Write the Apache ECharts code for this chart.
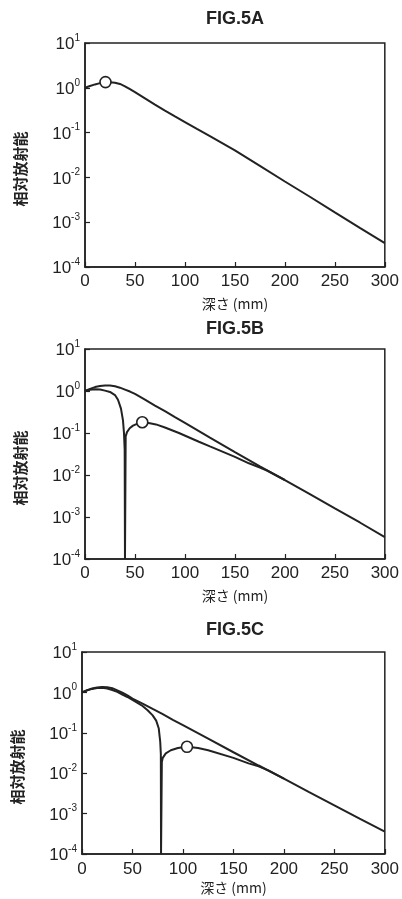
<!DOCTYPE html>
<html>
<head>
<meta charset="utf-8">
<title>FIG.5</title>
<script src="https://cdn.jsdelivr.net/npm/echarts@6/dist/echarts.min.js"></script>
<style>
	html, body { margin: 0; padding: 0; background: #fff; }
	#chart { width: 402px; height: 899px; }
</style>
</head>
<body>
<div id="chart"></div>
<script>
// 目盛り
var xTickLabels = ['0', '50', '100', '150', '200', '250', '300'];
var yTickExponents = ['-4', '-3', '-2', '-1', '0', '1'];
var titles = ['FIG.5A', 'FIG.5B', 'FIG.5C'];

// FIG.5A
var depthA = [0, 5, 10, 15, 20, 25, 30, 35, 40, 45, 50, 60, 70, 80, 90, 100, 112, 125, 150, 175, 200, 225, 250, 275, 300];
var doseA = [1.0, 1.1, 1.19, 1.27, 1.32, 1.33, 1.3, 1.22, 1.08, 0.93, 0.8, 0.58, 0.42, 0.31, 0.23, 0.172, 0.121, 0.083, 0.040, 0.018, 0.0081, 0.0037, 0.00166, 0.00075, 0.00034];
var peakA = [20.5, 1.34];

// FIG.5B
var depthB = [0, 5, 10, 15, 20, 25, 30, 35, 40, 45, 50, 60, 70, 80, 90, 100, 125, 150, 175, 200, 225, 250, 275, 300];
var doseB = [1.0, 1.12, 1.24, 1.32, 1.36, 1.36, 1.3, 1.2, 1.08, 0.97, 0.85, 0.62, 0.45, 0.33, 0.24, 0.175, 0.078, 0.035, 0.016, 0.0076, 0.0035, 0.0016, 0.00074, 0.00033];
var depthB2 = [0, 5, 10, 15, 20, 25, 30, 33, 36, 38, 39, 39.7, 40, 40.7, 42, 44.7, 48, 52, 57.3, 65, 71, 80, 94, 114, 125, 150, 164, 175, 182, 200];
var doseB2 = [1.0, 1.07, 1.1, 1.08, 1.02, 0.95, 0.8, 0.62, 0.38, 0.2, 0.1, 0.04, 0.0001, 0.083, 0.105, 0.13, 0.15, 0.165, 0.18, 0.17, 0.16, 0.135, 0.1, 0.062, 0.048, 0.027, 0.019, 0.015, 0.0128, 0.0076];
var peakB = [57.3, 0.18];

// FIG.5C
var depthC = [0, 5, 10, 15, 20, 25, 30, 35, 40, 45, 50, 60, 70, 80, 90, 100, 125, 150, 175, 200, 225, 250, 275, 300];
var doseC = [1.0, 1.13, 1.25, 1.33, 1.37, 1.35, 1.27, 1.12, 0.98, 0.84, 0.7, 0.53, 0.39, 0.29, 0.21, 0.155, 0.072, 0.033, 0.0155, 0.0073, 0.0034, 0.0016, 0.00075, 0.00036];
var depthC2 = [0, 5, 10, 15, 20, 25, 30, 35, 40, 45, 50, 55, 60, 65, 70, 73.5, 76, 77.5, 78.1, 78.3, 79.1, 80, 83, 88, 95, 104, 115, 125, 150, 165, 175, 185, 200];
var doseC2 = [1.0, 1.12, 1.22, 1.28, 1.3, 1.25, 1.15, 1.03, 0.88, 0.77, 0.65, 0.55, 0.46, 0.36, 0.27, 0.2, 0.13, 0.06, 0.03, 0.0001, 0.019, 0.024, 0.031, 0.037, 0.042, 0.045, 0.042, 0.037, 0.024, 0.0175, 0.0148, 0.0116, 0.0073];
var peakC = [104, 0.045];

var INK = '#222';
var LATIN = "'Liberation Sans', Arial, sans-serif";
var CJK = "'Noto Sans CJK JP', sans-serif";

// 各パネルの配置
var panels = [
	{ top: 43, height: 224, left: 85, titleTop: 10, labelMargin: 6, nameGap: 30, curves: [[depthA, doseA]], peak: peakA },
	{ top: 349, height: 210, left: 85, titleTop: 320, labelMargin: 6, nameGap: 30, curves: [[depthB, doseB], [depthB2, doseB2]], peak: peakB },
	{ top: 652, height: 202, left: 82, titleTop: 621, labelMargin: 7, nameGap: 27, curves: [[depthC, doseC], [depthC2, doseC2]], peak: peakC }
];

function pairs(xs, ys) {
	return xs.map(function (x, i) { return [x, ys[i]]; });
}

function createOption() {
	var option = {
		animation: false,
		backgroundColor: '#fff',
		title: [], grid: [], xAxis: [], yAxis: [], series: []
	};
	panels.forEach(function (p, i) {
		option.title.push({
			text: titles[i],
			left: 235,
			textAlign: 'center',
			top: p.titleTop,
			padding: 0,
			textStyle: { fontFamily: LATIN, fontWeight: 'bold', fontSize: 18, color: INK }
		});
		option.grid.push({
			left: p.left, right: 15, top: p.top, height: p.height,
			show: true, borderColor: INK, borderWidth: 1.5, backgroundColor: 'transparent'
		});
		option.xAxis.push({
			type: 'value', gridIndex: i, min: 0, max: 300, interval: 50,
			name: '深さ (mm)', nameLocation: 'middle', nameGap: p.nameGap,
			nameTextStyle: { fontFamily: CJK, fontSize: 14, color: INK },
			axisLine: { lineStyle: { color: INK, width: 1.5 } },
			axisTick: { inside: true, length: 5, lineStyle: { color: INK, width: 1.2 } },
			splitLine: { show: false },
			axisLabel: {
				margin: p.labelMargin, fontFamily: LATIN, fontSize: 17, color: INK,
				formatter: function (v) { return xTickLabels[Math.round(v / 50)]; }
			}
		});
		option.yAxis.push({
			type: 'log', logBase: 10, gridIndex: i, min: 0.0001, max: 10,
			name: '相対放射能', nameLocation: 'middle', nameGap: 57, nameRotate: 90,
			nameTextStyle: { fontFamily: CJK, fontSize: 15, fontWeight: 'bold', color: INK, padding: [0, 28, 0, 0] },
			axisLine: { lineStyle: { color: INK, width: 1.5 } },
			axisTick: { inside: true, length: 5, lineStyle: { color: INK, width: 1.2 } },
			splitLine: { show: false },
			minorTick: { show: false },
			axisLabel: {
				margin: 5, color: INK,
				formatter: function (v) {
					var e = Math.round(Math.log(v) / Math.LN10);
					return '{b|10}{s|' + yTickExponents[e + 4] + '}';
				},
				rich: {
					b: { fontFamily: LATIN, fontSize: 17, color: INK, lineHeight: 20, verticalAlign: 'bottom' },
					s: { fontFamily: LATIN, fontSize: 10, color: INK, verticalAlign: 'top' }
				}
			}
		});
		p.curves.forEach(function (c) {
			option.series.push({
				type: 'line', xAxisIndex: i, yAxisIndex: i,
				data: pairs(c[0], c[1]),
				symbol: 'none', smooth: false, clip: true,
				lineStyle: { color: INK, width: 2 }
			});
		});
		option.series.push({
			type: 'scatter', xAxisIndex: i, yAxisIndex: i,
			data: [p.peak], symbol: 'circle', symbolSize: 11, z: 5,
			itemStyle: { color: '#fff', opacity: 1, borderColor: INK, borderWidth: 1.6 }
		});
	});
	return option;
}

var chart = echarts.init(document.getElementById('chart'));
chart.setOption(createOption());
</script>
</body>
</html>
